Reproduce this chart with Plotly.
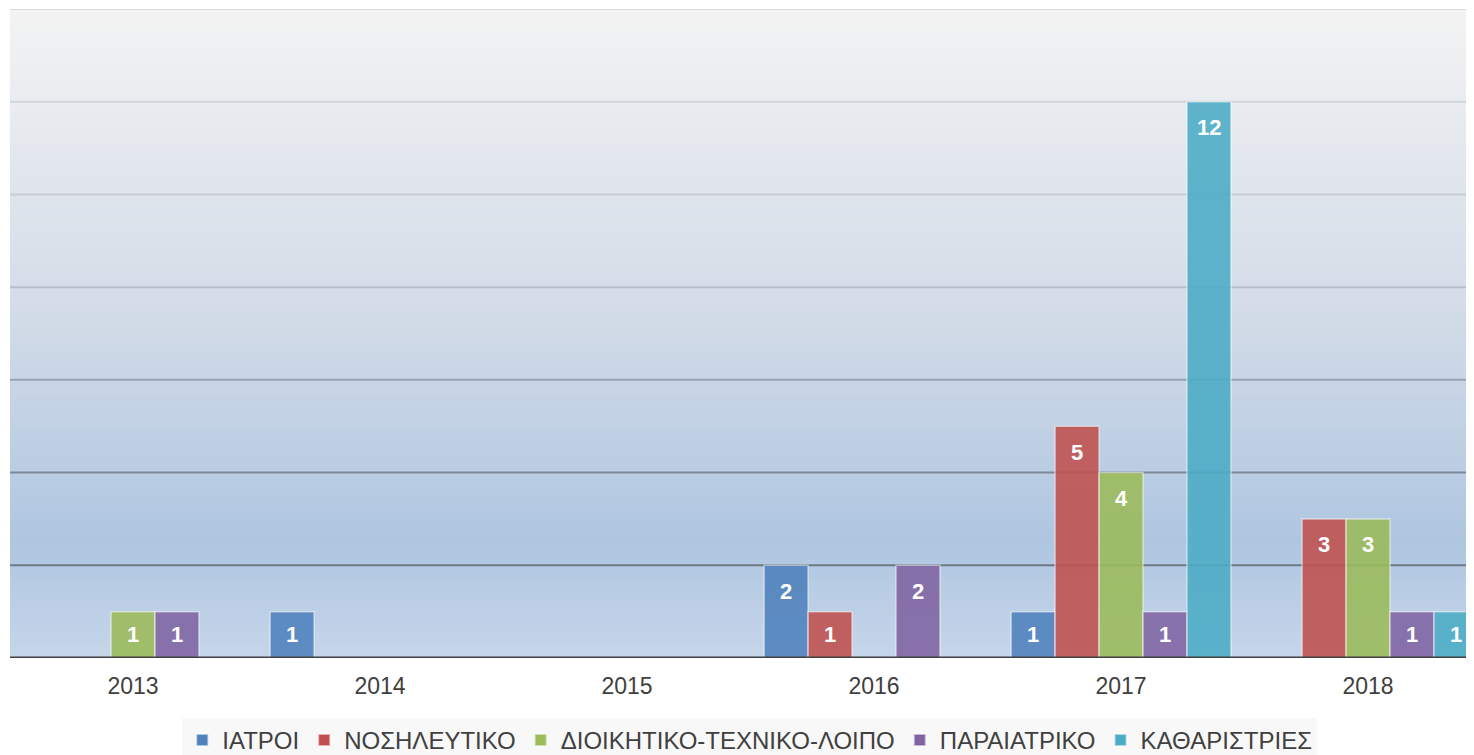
import plotly.graph_objects as go

years = ["2013", "2014", "2015", "2016", "2017", "2018"]
series_names = ["ΙΑΤΡΟΙ", "ΝΟΣΗΛΕΥΤΙΚΟ", "ΔΙΟΙΚΗΤΙΚΟ-ΤΕΧΝΙΚΟ-ΛΟΙΠΟ", "ΠΑΡΑΙΑΤΡΙΚΟ", "ΚΑΘΑΡΙΣΤΡΙΕΣ"]
iatroi = [None, 1, None, 2, 1, None]
nosileftiko = [None, None, None, 1, 5, 3]
dioikitiko = [1, None, None, None, 4, 3]
paraiatriko = [1, None, None, 2, 1, 1]
katharistries = [None, None, None, None, 12, 1]
series_values = [iatroi, nosileftiko, dioikitiko, paraiatriko, katharistries]
colors = ["#4F81BD", "#C0504D", "#9BBB59", "#8064A2", "#4BACC6"]
grid_values = [2, 4, 6, 8, 10, 12, 14]
grid_colors = ["#6E7886", "#7C8898", "#97A2B0", "#B6BEC8", "#C9CED5", "#D1D4D9", "#DADADA"]

FONT = "Liberation Sans, Arial, sans-serif"
W, H = 1466, 747            # page body has an 8px margin in the browser
ML, MR, MT, MB = 2, 0, 1, 97
BARGAP = 0.11
XRANGE = [-0.498, 5.429]
YRANGE = [0, 14]

fig = go.Figure()
for name, vals, col in zip(series_names, series_values, colors):
    fig.add_trace(go.Bar(
        x=years, y=vals, name=name,
        marker=dict(color=col, opacity=0.88,
                    line=dict(color="rgba(255,255,255,0.55)", width=1.5)),
        cliponaxis=True,
    ))

# value labels, placed through the axes (category index + value) and shifted within the group
plot_w = W - ML - MR
plot_h = H - MT - MB
px_per_cat = plot_w / (XRANGE[1] - XRANGE[0])
px_per_unit = plot_h / (YRANGE[1] - YRANGE[0])
bar_px = px_per_cat * (1 - BARGAP) / len(series_names)
annotations = []
for i, vals in enumerate(series_values):
    for j, v in enumerate(vals):
        if v is None:
            continue
        annotations.append(dict(
            x=j, y=v, xref="x", yref="y", text=str(v), showarrow=False,
            xshift=(i - (len(series_names) - 1) / 2) * bar_px,
            yshift=-min(26, v * px_per_unit / 2),
            font=dict(family=FONT, size=22, color="white", weight="bold"),
            xanchor="center", yanchor="middle",
        ))

# background gradient (plot area)
stops = [(0.0, (198, 214, 234)), (0.18, (175, 198, 225)), (0.5, (208, 218, 231)), (1.0, (243, 243, 243))]

def col_at(f):
    for (f0, c0), (f1, c1) in zip(stops[:-1], stops[1:]):
        if f0 <= f <= f1:
            t = (f - f0) / (f1 - f0)
            return "rgb(%d,%d,%d)" % tuple(round(a + (b - a) * t) for a, b in zip(c0, c1))
    return "rgb(%d,%d,%d)" % stops[-1][1]

n = 120
shapes = []
for i in range(n):
    y0 = i / n
    y1 = (i + 1) / n + 0.002
    shapes.append(dict(type="rect", xref="x domain", yref="y domain", x0=0, x1=1, y0=y0, y1=min(y1, 1),
                       fillcolor=col_at((i + 0.5) / n), line=dict(width=0), layer="below"))
for gv, gc in zip(grid_values, grid_colors):
    shapes.append(dict(type="line", xref="x domain", yref="y", x0=0, x1=1, y0=gv, y1=gv,
                       line=dict(color=gc, width=2), layer="below"))
shapes.append(dict(type="line", xref="x domain", yref="y", x0=0, x1=1, y0=0, y1=0,
                   line=dict(color="#404040", width=3), layer="above"))

fig.update_layout(
    width=W, height=H,
    margin=dict(l=ML, r=MR, t=MT, b=MB, autoexpand=False),
    paper_bgcolor="white", plot_bgcolor="rgba(0,0,0,0)",
    barmode="group", bargap=BARGAP, bargroupgap=0,
    shapes=shapes, annotations=annotations,
    font=dict(family=FONT, color="#404040"),
    showlegend=True,
    legend=dict(orientation="h", xref="container", yref="container",
                x=0.506, xanchor="center", y=0.0495, yanchor="top",
                bgcolor="#F8F8F8", font=dict(size=24, color="#404040"),
                itemsizing="constant"),
    xaxis=dict(type="category", range=XRANGE, showgrid=False, zeroline=False, showline=False,
               tickfont=dict(size=23, color="#404040"), ticks="", ticklabelstandoff=12),
    yaxis=dict(range=YRANGE, showgrid=False, zeroline=False, showticklabels=False, ticks=""),
)

fig.write_html("out.html")
